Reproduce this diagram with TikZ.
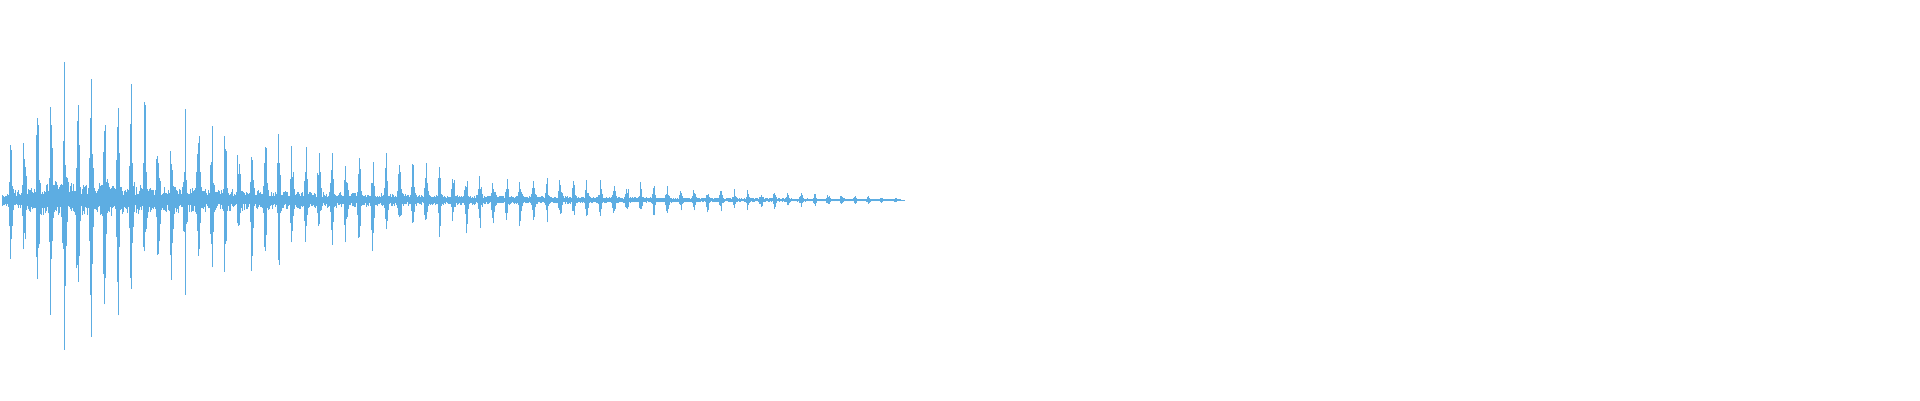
\documentclass[tikz,border=0pt]{standalone}
\begin{document}
\begin{tikzpicture}[x=1pt,y=1pt]
\definecolor{wave}{HTML}{5DADE2}
\tikzset{wv/.style={draw=wave,line width=0.7pt}}
\useasboundingbox (0,0) rectangle (1920,400);
\pgfmathsetseed{11}
\draw[wv] (2,200) -- (905,200);
\foreach \x in {2,3,...,900}{
  \pgfmathsetmacro{\env}{190*exp(-\x/360)*min(1,(\x+15)/70)*sqrt(1-\x/906)}
  \pgfmathsetmacro{\m}{mod(\x+5,13.4)}
  \pgfmathsetmacro{\b}{0.12+0.88*exp(-(\m-2)*(\m-2)/2.5)}
  \pgfmathsetmacro{\up}{\env*\b*(0.3+0.7*rnd)+0.8}
  \pgfmathsetmacro{\dn}{\env*\b*(0.3+0.7*rnd)+0.8}
  \draw[wv] (\x,200-\dn) -- (\x,200+\up);
}
\end{tikzpicture}
\end{document}
